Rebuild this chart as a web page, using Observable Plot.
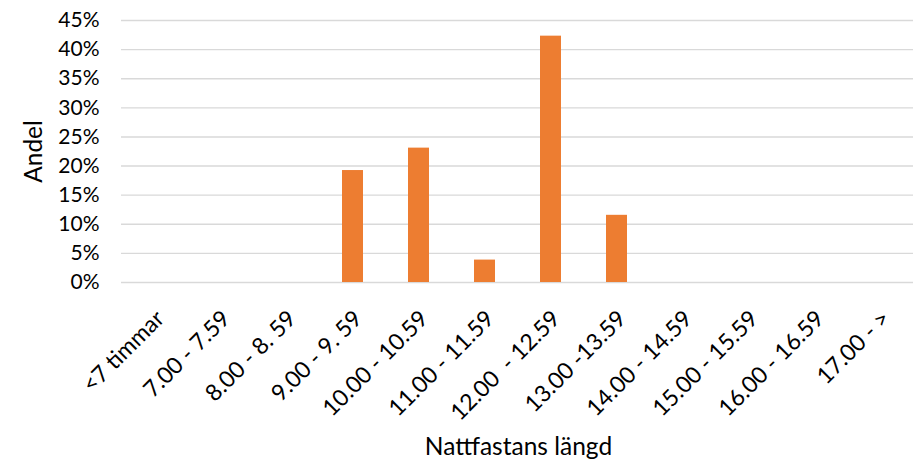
<!DOCTYPE html>
<html>
<head>
<meta charset="utf-8">
<script src="https://cdn.jsdelivr.net/npm/d3@7"></script>
<script src="https://cdn.jsdelivr.net/npm/@observablehq/plot@0.6"></script>
<style>
  html, body { margin: 0; padding: 0; background: #fff; }
  svg text { white-space: pre; }
</style>
</head>
<body>
<div id="chart"></div>
<script>
const categories = ["<7 timmar", "7.00 - 7.59", "8.00 - 8. 59", "9.00 - 9. 59", "10.00 - 10.59", "11.00 - 11.59", "12.00  - 12.59", "13.00 -13.59", "14.00 - 14.59", "15.00 - 15.59", "16.00 - 16.59", "17.00 - >"];
const values = [0, 0, 0, 0.1923, 0.2308, 0.0385, 0.4231, 0.1154, 0, 0, 0, 0];
const yTicks = [0, 0.05, 0.10, 0.15, 0.20, 0.25, 0.30, 0.35, 0.40, 0.45];
const xTitle = "Nattfastans längd";
const yTitle = "Andel";

const data = categories.map((c, i) => ({cat: c, value: values[i]}));
const font = "Lato, 'Open Sans', sans-serif";

const chart = Plot.plot({
  width: 915,
  height: 462,
  marginLeft: 121,
  marginRight: 2,
  marginTop: 20,
  marginBottom: 180,
  style: {fontFamily: font, fontSize: "21px", color: "#000", background: "#fff"},
  x: {domain: categories, paddingInner: 0.686, paddingOuter: 0.343, label: null, axis: null},
  y: {domain: [0, 0.45], label: null},
  marks: [
    Plot.gridY(yTicks, {stroke: "#d9d9d9", strokeOpacity: 1, strokeWidth: 1.4}),
    Plot.barY(data, {x: "cat", y: "value", fill: "#ED7D31"}),
    Plot.axisY({ticks: yTicks, tickFormat: d3.format(".0%"), tickSize: 0, tickPadding: 22, fontSize: 21, label: null}),
    Plot.text(categories, {x: d => d, frameAnchor: "bottom", textAnchor: "end", lineAnchor: "top", rotate: -45, dy: 26, dx: -1, fontSize: 23, fill: "#000"}),
    Plot.text([yTitle], {frameAnchor: "left", textAnchor: "middle", lineAnchor: "middle", rotate: -90, dx: -87, fontSize: 24.5}),
    Plot.text([xTitle], {frameAnchor: "bottom", textAnchor: "middle", lineAnchor: "middle", dy: 165, dx: 1, fontSize: 24.5})
  ]
});
document.getElementById("chart").appendChild(chart);
</script>
</body>
</html>
